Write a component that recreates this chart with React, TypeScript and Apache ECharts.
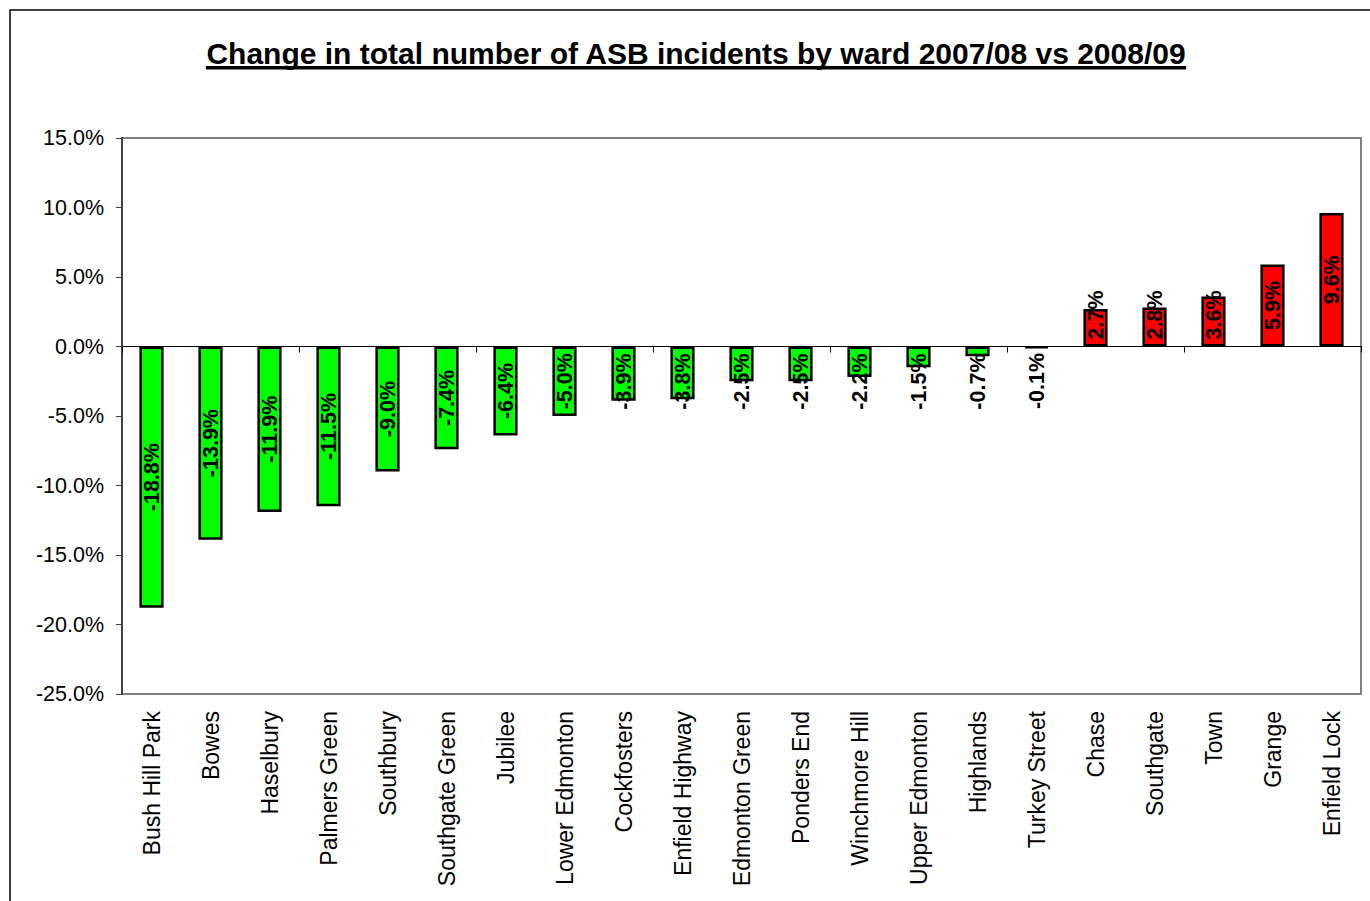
import React, { useEffect, useRef } from "react";
import * as echarts from "echarts";

const titleText = "Change in total number of ASB incidents by ward 2007/08 vs 2008/09";

const wards = [
  "Bush Hill Park",
  "Bowes",
  "Haselbury",
  "Palmers Green",
  "Southbury",
  "Southgate Green",
  "Jubilee",
  "Lower Edmonton",
  "Cockfosters",
  "Enfield Highway",
  "Edmonton Green",
  "Ponders End",
  "Winchmore Hill",
  "Upper Edmonton",
  "Highlands",
  "Turkey Street",
  "Chase",
  "Southgate",
  "Town",
  "Grange",
  "Enfield Lock",
];

const changePct = [
  -18.8, -13.9, -11.9, -11.5, -9.0, -7.4, -6.4, -5.0, -3.9, -3.8, -2.5, -2.5, -2.2, -1.5, -0.7, -0.1,
  2.7, 2.8, 3.6, 5.9, 9.6,
];

const yMin = -25;
const yMax = 15;
const yStep = 5;

const FONT = 'Arial, "Liberation Sans", sans-serif';

export default function App() {
  const ref = useRef<HTMLDivElement>(null);

  useEffect(() => {
    if (!ref.current) return;
    const chart = echarts.init(ref.current, null, { renderer: "svg" });

    const titleFontSize = 30;
    let titleWidth = 978;
    try {
      const ctx = document.createElement("canvas").getContext("2d");
      if (ctx) {
        ctx.font = `bold ${titleFontSize}px ${FONT}`;
        titleWidth = ctx.measureText(titleText).width;
      }
    } catch (e) {}
    const titleCenter = 696;

    const seriesData = changePct.map((v) => {
      let label: any;
      if (Math.abs(v) >= 5) {
        label = { position: "inside", align: "center", verticalAlign: "middle" };
      } else if (v >= 0) {
        label = { position: "insideBottom", align: "left", verticalAlign: "middle", distance: 7 };
      } else {
        label = { position: "insideTop", align: "right", verticalAlign: "middle", distance: 7 };
      }
      return {
        value: v,
        itemStyle: { color: v >= 0 ? "#FF0000" : "#00FF00" },
        label,
      };
    });

    chart.setOption({
      animation: false,
      backgroundColor: "#ffffff",
      title: {
        text: titleText,
        left: titleCenter,
        top: 38,
        padding: 0,
        textAlign: "center",
        textStyle: {
          fontFamily: FONT,
          fontSize: titleFontSize,
          fontWeight: "bold",
          color: "#000",
          lineHeight: 30,
        },
      },
      graphic: [
        {
          type: "rect",
          silent: true,
          shape: { x: 10, y: 10, width: 1400, height: 920 },
          style: { fill: "none", stroke: "#000", lineWidth: 1.5 },
        },
        {
          type: "rect",
          silent: true,
          shape: { x: titleCenter - titleWidth / 2, y: 66, width: titleWidth, height: 3.5 },
          style: { fill: "#000" },
        },
      ],
      grid: {
        left: 122,
        right: 9,
        top: 138,
        bottom: 207,
        show: true,
        borderColor: "#808080",
        borderWidth: 2,
        backgroundColor: "#fff",
      },
      xAxis: [
        {
          type: "category",
          data: wards,
          position: "bottom",
          axisLine: { show: false, onZero: false },
          axisTick: { show: false },
          axisLabel: {
            rotate: 90,
            margin: 17,
            fontFamily: FONT,
            fontSize: 23,
            color: "#000",
            interval: 0,
          },
        },
        {
          type: "category",
          data: wards,
          position: "top",
          axisLine: { show: true, onZero: true, lineStyle: { color: "#000", width: 1 } },
          axisTick: { show: true, inside: true, length: 6, lineStyle: { color: "#000", width: 1 } },
          axisLabel: { show: false },
        },
      ],
      yAxis: {
        type: "value",
        min: yMin,
        max: yMax,
        interval: yStep,
        splitLine: { show: false },
        axisLine: { show: true, lineStyle: { color: "#404040", width: 2 } },
        axisTick: { show: true, length: 6, lineStyle: { color: "#404040", width: 1 } },
        axisLabel: {
          margin: 18,
          fontFamily: FONT,
          fontSize: 21.5,
          color: "#000",
          formatter: (v: number) => v.toFixed(1) + "%",
        },
      },
      series: [
        {
          type: "bar",
          xAxisIndex: 0,
          data: seriesData,
          barWidth: "41%",
          itemStyle: { borderColor: "#000", borderWidth: 2.5 },
          label: {
            show: true,
            rotate: 90,
            fontFamily: FONT,
            fontSize: 21.5,
            fontWeight: "bold",
            color: "#000",
            formatter: (p: any) => Number(p.value).toFixed(1) + "%",
          },
        },
      ],
    });

    return () => chart.dispose();
  }, []);

  return (
    <div
      ref={ref}
      style={{ position: "absolute", left: 0, top: 0, width: 1370, height: 901 }}
    />
  );
}
